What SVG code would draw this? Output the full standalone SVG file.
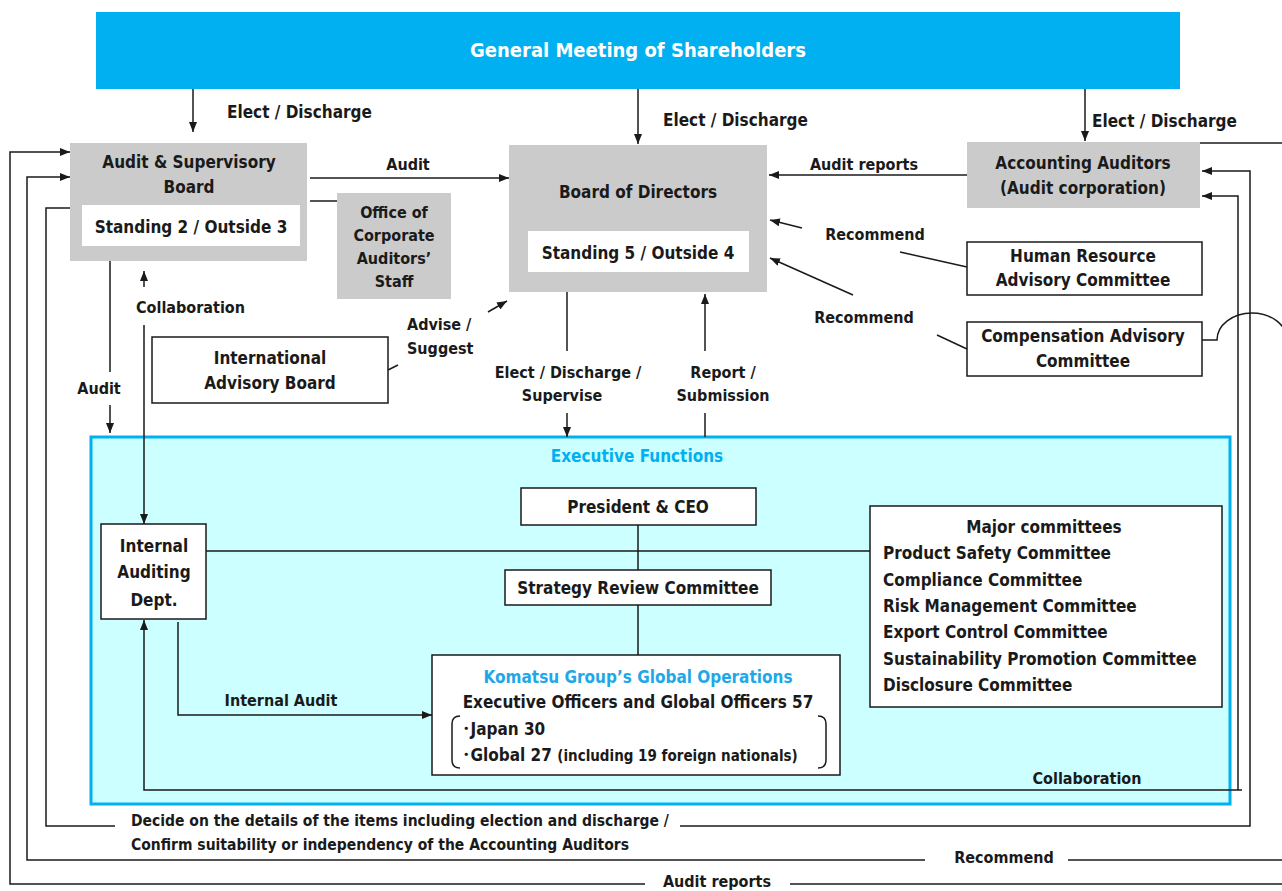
<svg xmlns="http://www.w3.org/2000/svg" width="1282" height="891" viewBox="0 0 1282 891">
<style>
text{font-family:"Liberation Sans Narrow","DejaVu Sans Condensed","Liberation Sans","Noto Sans CJK JP",sans-serif;font-weight:bold;fill:#1a1a1a;font-size:17px}
.c{text-anchor:middle}
.n{font-size:17px}
.s{font-size:16px}
.d{font-size:15.5px}
.gray{fill:#cbcbcb}
.box{fill:#fff;stroke:#1a1a1a;stroke-width:1.5}
.ln{fill:none;stroke:#1a1a1a;stroke-width:1.5}
.ar{marker-end:url(#ah)}
</style>
<defs>
<marker id="ah" markerUnits="userSpaceOnUse" markerWidth="10" markerHeight="8" refX="10" refY="4" orient="auto">
<path d="M0,0 L10,4 L0,8 z" fill="#1a1a1a"/>
</marker>
</defs>
<rect width="1282" height="891" fill="#fff"/>

<g id="exec">
<rect x="91" y="437" width="1139" height="367" fill="#ccffff" stroke="#00b0f0" stroke-width="3"/>
<text x="637" y="462" class="c n" style="fill:#00b0f0">Executive Functions</text>
</g>

<g id="gms">
<rect x="96" y="12" width="1084" height="77" fill="#00b0f0"/>
<text x="638" y="57" class="c" style="fill:#fff;font-size:20px">General Meeting of Shareholders</text>
</g>

<g id="asb">
<rect x="70" y="143" width="237" height="118" class="gray"/>
<rect x="82" y="205" width="218" height="41" fill="#fff"/>
<text x="189" y="168" class="c">Audit &amp; Supervisory</text>
<text x="189" y="193" class="c">Board</text>
<text x="191" y="233" class="c n">Standing 2 / Outside 3</text>
</g>

<g id="office">
<rect x="337" y="193" width="114" height="106" class="gray"/>
<text x="394" y="218" class="c s">Office of</text>
<text x="394" y="241" class="c s">Corporate</text>
<text x="394" y="264" class="c s">Auditors’</text>
<text x="394" y="287" class="c s">Staff</text>
</g>

<g id="bod">
<rect x="509" y="145" width="258" height="147" class="gray"/>
<rect x="528" y="231" width="221" height="41" fill="#fff"/>
<text x="638" y="198" class="c n">Board of Directors</text>
<text x="638" y="259" class="c n">Standing 5 / Outside 4</text>
</g>

<g id="acc">
<rect x="967" y="142" width="233" height="66" class="gray"/>
<text x="1083" y="169" class="c n">Accounting Auditors</text>
<text x="1083" y="194" class="c n">(Audit corporation)</text>
</g>

<g id="hr">
<rect x="967" y="242" width="235" height="53" class="box"/>
<text x="1083" y="262" class="c n">Human Resource</text>
<text x="1083" y="286" class="c n">Advisory Committee</text>
</g>

<g id="comp">
<rect x="967" y="322" width="235" height="54" class="box"/>
<text x="1083" y="342" class="c n">Compensation Advisory</text>
<text x="1083" y="367" class="c n">Committee</text>
</g>

<g id="iab">
<rect x="152" y="337" width="236" height="66" class="box"/>
<text x="270" y="364" class="c n">International</text>
<text x="270" y="389" class="c n">Advisory Board</text>
</g>

<g id="ceo">
<rect x="521" y="488" width="235" height="37" class="box"/>
<text x="638" y="513" class="c">President &amp; CEO</text>
</g>

<g id="src">
<rect x="505" y="570" width="266" height="35" class="box"/>
<text x="638" y="594" class="c">Strategy Review Committee</text>
</g>

<g id="iad">
<rect x="101" y="524" width="105" height="95" class="box"/>
<text x="154" y="552" class="c">Internal</text>
<text x="154" y="578" class="c">Auditing</text>
<text x="154" y="606" class="c">Dept.</text>
</g>

<g id="major">
<rect x="870" y="506" width="352" height="201" class="box"/>
<text x="1044" y="533" class="c">Major committees</text>
<text x="883" y="559" class="n">Product Safety Committee</text>
<text x="883" y="586" class="n">Compliance Committee</text>
<text x="883" y="612" class="n">Risk Management Committee</text>
<text x="883" y="638" class="n">Export Control Committee</text>
<text x="883" y="665" class="n">Sustainability Promotion Committee</text>
<text x="883" y="691" class="n">Disclosure Committee</text>
</g>

<g id="komatsu">
<rect x="432" y="655" width="408" height="120" class="box"/>
<text x="638" y="683" class="c" style="fill:#1fa8e8">Komatsu Group’s Global Operations</text>
<text x="638" y="708" class="c n">Executive Officers and Global Officers 57</text>
<path d="M460,716 Q452,716 452,724 V760 Q452,768 460,768 M818,716 Q826,716 826,724 V760 Q826,768 818,768" class="ln"/>
<text x="462" y="735" class="n">･Japan 30</text>
<text x="462" y="761" class="n">･Global 27 <tspan style="font-size:15px">(including 19 foreign nationals)</tspan></text>
</g>

<g id="connectors">
<path d="M193,89 V132" class="ln ar"/>
<path d="M638,89 V144" class="ln ar"/>
<path d="M1085,89 V141" class="ln ar"/>
<path d="M310,178 H509" class="ln ar"/>
<path d="M310,201 H337" class="ln"/>
<path d="M967,175 H769" class="ln ar"/>
<path d="M967,267 L900,252" class="ln"/>
<path d="M802,228 L770,220" class="ln ar"/>
<path d="M967,349 L937,335" class="ln"/>
<path d="M853,295 L770,258" class="ln ar"/>
<path d="M388,370 L398,365" class="ln"/>
<path d="M488,312 L507,301" class="ln ar"/>
<path d="M567,292 V351" class="ln"/>
<path d="M567,413 V437" class="ln ar"/>
<path d="M705,437 V413" class="ln"/>
<path d="M705,351 V294" class="ln ar"/>
<path d="M110,261 V372" class="ln"/>
<path d="M110,405 V433" class="ln ar"/>
<path d="M144,287 V271" class="ln ar"/>
<path d="M144,325 V524" class="ln ar"/>
<path d="M178,622 V715 H432" class="ln ar"/>
<path d="M206,551 H870" class="ln"/>
<path d="M638,525 V570 M638,605 V655" class="ln"/>
<path d="M1242,790 H144 V620" class="ln ar"/>
<path d="M1238,790 V196 H1202" class="ln ar"/>
<path d="M70,208 H46 V826 H115" class="ln"/>
<path d="M680,826 H1250 V171 H1202" class="ln ar"/>
<path d="M1202,340 H1217 A35,27 0 0 1 1287,340" class="ln"/>
<path d="M1282,860 H1068" class="ln"/>
<path d="M925,860 H27 V177 H70" class="ln ar"/>
<path d="M1200,143 H1282" class="ln"/>
<path d="M1282,884 H790" class="ln"/>
<path d="M645,884 H10 V152 H70" class="ln ar"/>
</g>

<g id="labels">
<text x="227" y="118">Elect / Discharge</text>
<text x="663" y="126">Elect / Discharge</text>
<text x="1092" y="127">Elect / Discharge</text>
<text x="408" y="170" class="c s">Audit</text>
<text x="864" y="170" class="c s">Audit reports</text>
<text x="875" y="240" class="c s">Recommend</text>
<text x="864" y="323" class="c s">Recommend</text>
<text x="136" y="313" class="s">Collaboration</text>
<text x="407" y="330" class="s">Advise /</text>
<text x="407" y="354" class="s">Suggest</text>
<text x="568" y="378" class="c s">Elect / Discharge /</text>
<text x="562" y="401" class="c s">Supervise</text>
<text x="723" y="378" class="c s">Report /</text>
<text x="723" y="401" class="c s">Submission</text>
<text x="99" y="394" class="c s">Audit</text>
<text x="281" y="706" class="c s">Internal Audit</text>
<text x="1087" y="784" class="c s">Collaboration</text>
<text x="131" y="826" class="d">Decide on the details of the items including election and discharge /</text>
<text x="131" y="850" class="d">Confirm suitability or independency of the Accounting Auditors</text>
<text x="1004" y="863" class="c s">Recommend</text>
<text x="717" y="887" class="c s">Audit reports</text>
</g>
</svg>
